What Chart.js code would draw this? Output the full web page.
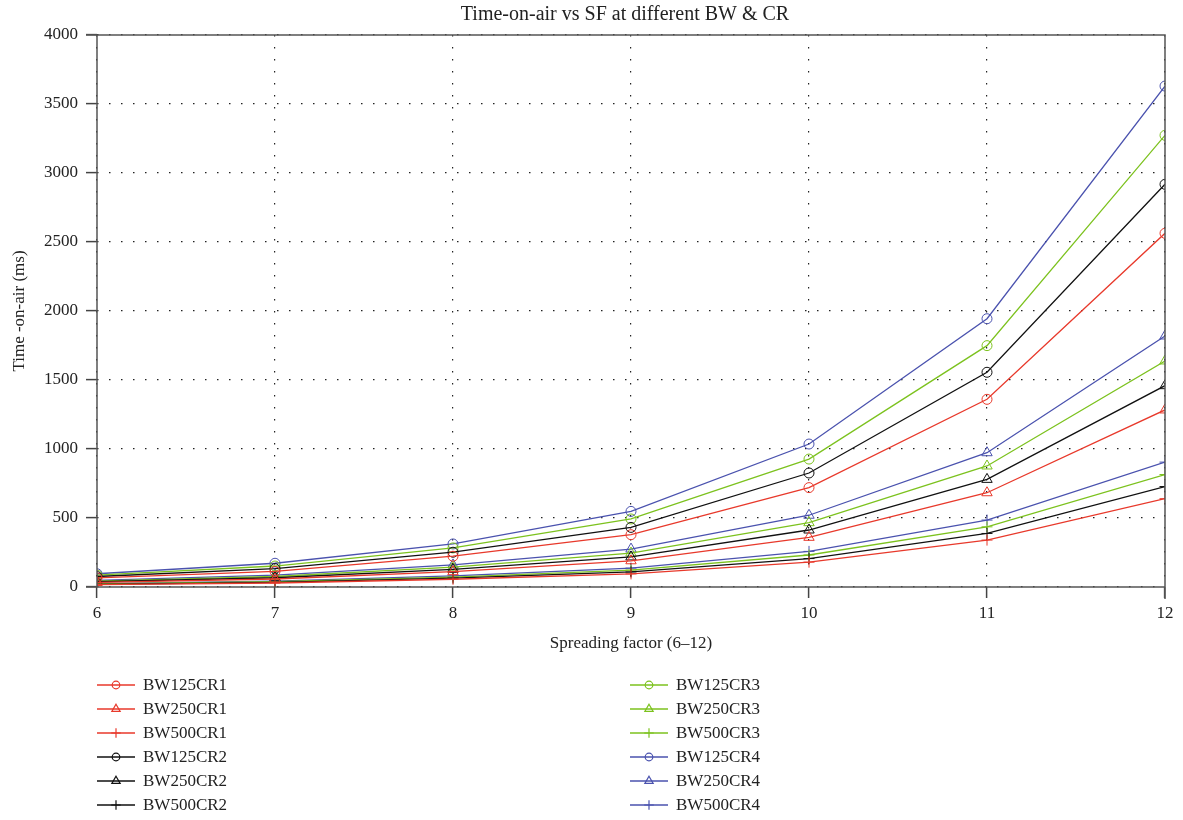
<!DOCTYPE html>
<html>
<head>
<meta charset="utf-8">
<title>Time-on-air vs SF</title>
<script src="https://cdn.jsdelivr.net/npm/chart.js@4.4.0/dist/chart.umd.min.js"></script>
<style>
  html, body { margin: 0; padding: 0; background: #fff; }
  #wrap { width: 1183px; height: 820px; position: relative; }
</style>
</head>
<body>
<div id="wrap"><canvas id="toa"></canvas></div>
<script>
// x categories and tick labels
const spreadingFactors = [6, 7, 8, 9, 10, 11, 12];
const yTickValues = [0, 500, 1000, 1500, 2000, 2500, 3000, 3500, 4000];

// time-on-air (ms)
const bw125cr1 = [66, 113, 223, 379, 720, 1360, 2563];
const bw250cr1 = [33, 58, 111, 190, 360, 683, 1283];
const bw500cr1 = [17, 29, 56, 95, 180, 340, 640];
const bw125cr2 = [76, 133, 252, 432, 826, 1556, 2918];
const bw250cr2 = [38, 67, 128, 218, 413, 780, 1459];
const bw500cr2 = [19, 33, 64, 109, 206, 388, 728];
const bw125cr3 = [86, 152, 283, 493, 927, 1749, 3273];
const bw250cr3 = [43, 76, 144, 246, 466, 877, 1638];
const bw500cr3 = [22, 38, 72, 123, 232, 436, 815];
const bw125cr4 = [96, 172, 312, 548, 1036, 1944, 3630];
const bw250cr4 = [48, 86, 160, 275, 520, 973, 1819];
const bw500cr4 = [24, 43, 80, 137, 258, 485, 905];

const seriesNames = ['BW125CR1', 'BW250CR1', 'BW500CR1', 'BW125CR2', 'BW250CR2', 'BW500CR2',
                     'BW125CR3', 'BW250CR3', 'BW500CR3', 'BW125CR4', 'BW250CR4', 'BW500CR4'];
const seriesValues = [bw125cr1, bw250cr1, bw500cr1, bw125cr2, bw250cr2, bw500cr2,
                      bw125cr3, bw250cr3, bw500cr3, bw125cr4, bw250cr4, bw500cr4];

const TITLE = 'Time-on-air vs SF at different BW & CR';
const FONT = '"Liberation Serif", "Times New Roman", serif';
const CR_COLORS = ['#e8392b', '#111111', '#7cc21e', '#4a52ae'];
const MARKERS = ['circle', 'triangle', 'cross'];
const MARKER_R = [5, 6, 5.5];

const datasets = seriesNames.map((name, i) => {
  const color = CR_COLORS[Math.floor(i / 3)];
  return {
    label: name,
    data: seriesValues[i].map((v, k) => ({ x: spreadingFactors[k], y: v })),
    borderColor: color,
    backgroundColor: color,
    borderWidth: 1.3,
    pointStyle: MARKERS[i % 3],
    pointRadius: MARKER_R[i % 3],
    pointBorderWidth: 1,
    pointBorderColor: color,
    pointBackgroundColor: 'rgba(0,0,0,0)',
    tension: 0,
    fill: false
  };
});

// title over the plot and the solid box round it
const frame = {
  id: 'frame',
  afterDatasetsDraw(chart) {
    const { ctx, chartArea: a } = chart;
    ctx.save();
    ctx.strokeStyle = '#555';
    ctx.lineWidth = 1.5;
    ctx.setLineDash([]);
    ctx.beginPath();
    ctx.moveTo(a.left - 11, a.top);
    ctx.lineTo(a.right, a.top);
    ctx.lineTo(a.right, a.bottom + 12);
    ctx.moveTo(a.left, a.top);
    ctx.lineTo(a.left, a.bottom);
    ctx.moveTo(a.left - 11, a.bottom);
    ctx.lineTo(a.right, a.bottom);
    ctx.stroke();
    ctx.fillStyle = '#222';
    ctx.font = '20px ' + FONT;
    ctx.textAlign = 'center';
    ctx.textBaseline = 'middle';
    ctx.fillText(TITLE, (a.left + a.right) / 2 - 6, 15);
    ctx.restore();
  }
};

// two-column legend below the axis
const sideLegend = {
  id: 'sideLegend',
  afterDraw(chart) {
    const ctx = chart.ctx;
    ctx.save();
    chart.data.datasets.forEach((ds, i) => {
      const col = i < 6 ? 0 : 1;
      const row = i % 6;
      const x0 = col ? 630 : 97;
      const y = 685 + row * 24;
      ctx.strokeStyle = ds.borderColor;
      ctx.lineWidth = 1.3;
      ctx.beginPath();
      ctx.moveTo(x0, y);
      ctx.lineTo(x0 + 38, y);
      ctx.stroke();
      ctx.lineWidth = 1.2;
      ctx.fillStyle = 'rgba(0,0,0,0)';
      Chart.helpers.drawPoint(ctx, {
        pointStyle: ds.pointStyle,
        radius: ds.pointStyle === 'circle' ? 3.8 : 4.8,
        rotation: 0,
        borderWidth: 1.2
      }, x0 + 19, y);
      ctx.fillStyle = '#222';
      ctx.font = '17px ' + FONT;
      ctx.textBaseline = 'middle';
      ctx.textAlign = 'left';
      ctx.fillText(ds.label, x0 + 46, y + 1);
    });
    ctx.restore();
  }
};

const dotted = {
  color: '#222',
  lineWidth: 1.2,
  tickLength: 11,
  tickColor: '#444',
  tickWidth: 1.5,
  tickBorderDash: []
};

new Chart(document.getElementById('toa'), {
  type: 'line',
  data: { datasets },
  plugins: [frame, sideLegend],
  options: {
    responsive: true,
    maintainAspectRatio: false,
    animation: false,
    layout: { padding: { left: 9, right: 18, top: 35, bottom: 162 } },
    plugins: {
      legend: { display: false },
      tooltip: { enabled: false },
      title: { display: false }
    },
    scales: {
      x: {
        type: 'linear',
        min: 6,
        max: 12,
        afterBuildTicks: s => { s.ticks = spreadingFactors.map(v => ({ value: v })); },
        afterFit: s => { s.height = 71; },
        grid: dotted,
        border: { display: false, dash: [1.5, 10.5] },
        ticks: { color: '#222', font: { family: FONT, size: 17 }, padding: 5, maxRotation: 0,
                 callback: v => String(v) },
        title: {
          display: true,
          text: 'Spreading factor (6–12)',
          color: '#222',
          font: { family: FONT, size: 17 },
          padding: { top: 4, bottom: 4 }
        }
      },
      y: {
        type: 'linear',
        min: 0,
        max: 4000,
        afterBuildTicks: s => { s.ticks = yTickValues.map(v => ({ value: v })); },
        afterFit: s => { s.width = 88; },
        grid: dotted,
        border: { display: false, dash: [1.5, 10.5] },
        ticks: { color: '#222', font: { family: FONT, size: 17 }, padding: 8,
                 callback: v => String(v) },
        title: {
          display: true,
          text: 'Time -on-air (ms)',
          color: '#222',
          font: { family: FONT, size: 17 },
          padding: { top: 0, bottom: 0 }
        }
      }
    }
  }
});
</script>
</body>
</html>
